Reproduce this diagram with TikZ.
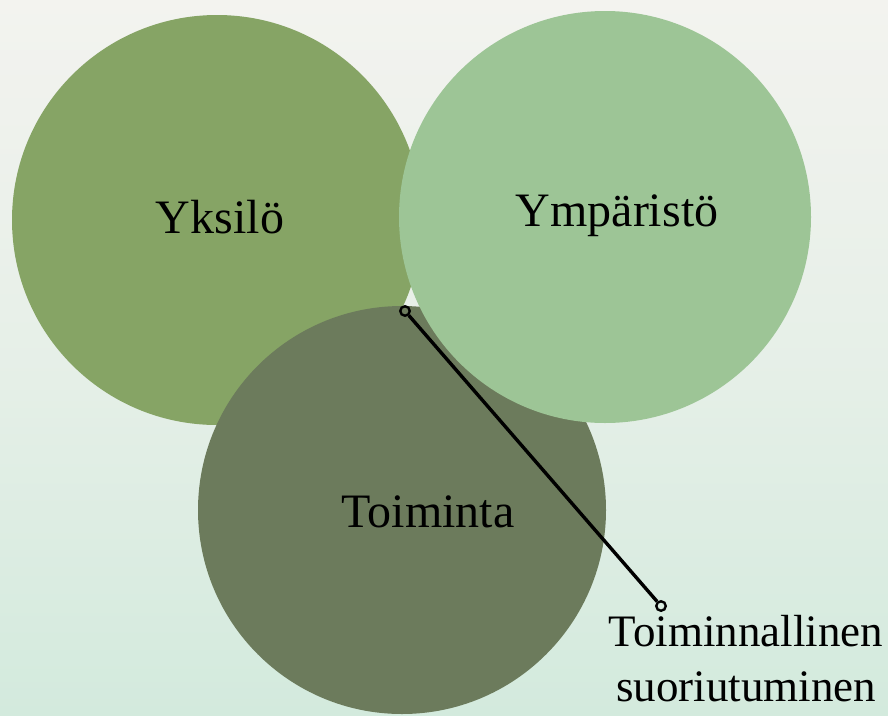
\documentclass[tikz,border=0pt]{standalone}
\usepackage{fontspec}
\setmainfont{Liberation Serif}
\usepackage{tikz}
\usetikzlibrary{positioning}

\definecolor{taustaYla}{HTML}{F3F3EF}
\definecolor{taustaAla}{HTML}{D3EADD}
\definecolor{yksiloVari}{HTML}{86A465}
\definecolor{ymparistoVari}{HTML}{9DC596}
\definecolor{toimintaVari}{HTML}{6C7B5C}

\begin{document}
\begin{tikzpicture}[x=1pt, y=-1pt]
    \tikzstyle{venn} = [circle, inner sep=0pt, draw=none]
    \tikzstyle{teksti} = [font=\fontsize{48}{48}\selectfont, text=black]
    \tikzstyle{piste} = [circle, draw=black, line width=2.4pt, minimum size=9.5pt, inner sep=0pt]

    % tausta
    \shade[top color=taustaYla, bottom color=taustaAla, middle color=taustaYla!60!taustaAla]
        (0,0) rectangle (888,715);
    \useasboundingbox (0,0) rectangle (888,715);

    % ympyrat
    \node [venn, fill=yksiloVari, minimum size=410pt] (yksilo) at (217,220) {};
    \node [venn, fill=toimintaVari, minimum size=408pt] (toiminta) at (402,510) {};
    \node [venn, fill=ymparistoVari, minimum size=412pt] (ymparisto) at (605,217) {};

    \node [teksti] at ([xshift=3pt, yshift=3pt]yksilo.center) {Yksilö};
    \node [teksti] at ([xshift=12pt, yshift=1pt]ymparisto.center) {Ympäristö};
    \node [teksti] at ([xshift=26pt, yshift=-2pt]toiminta.center) {Toiminta};

    % suoriutuminen
    \node [piste] (kohta) at (405,311) {};
    \node [piste] (loppu) at (661,606) {};
    \draw [line width=3.4pt] (kohta) -- (loppu);
    \node [font=\fontsize{45}{55}\selectfont, align=center, anchor=north, inner sep=0pt]
        (suoritus) at (746,615) {Toiminnallinen\\suoriutuminen};
\end{tikzpicture}
\end{document}
